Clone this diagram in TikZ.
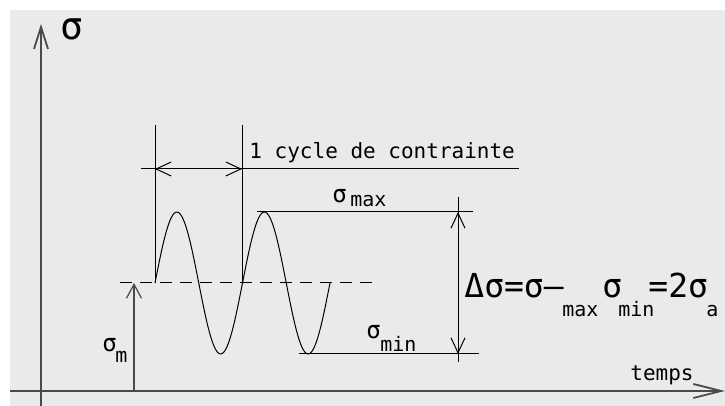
\documentclass[tikz,border=0pt]{standalone}
\usepackage{fontspec}
\setmainfont{DejaVu Sans Mono}
\usepackage{xcolor}
\usetikzlibrary{arrows.meta,positioning}
\definecolor{bggray}{HTML}{EAEAEA}
\definecolor{axisgray}{HTML}{4A4A4A}

\begin{document}
\begin{tikzpicture}[x=0.5pt, y=-0.5pt,
  thinline/.style={line width=0.5pt, black},
  axisline/.style={line width=0.9pt, axisgray},
  dblbarb/.style={{Straight Barb[length=7.5pt,width=7pt]}-{Straight Barb[length=7.5pt,width=7pt]}},
  txt/.style={inner sep=0pt, anchor=base west, font=\fontsize{10.5}{10.5}\selectfont},
  sig/.style={inner sep=0pt, anchor=base west, font=\fontsize{12}{12}\selectfont},
  bigrow/.style={inner sep=0pt, anchor=base west, font=\fontsize{16.5}{16.5}\selectfont},
  subtxt/.style={inner sep=0pt, anchor=base west, font=\fontsize{10}{10}\selectfont}]
\useasboundingbox (0,0) rectangle (725,406);
\fill[bggray] (10,10) rectangle (725,406);

% axes
\coordinate (ybot) at (41,406);
\coordinate (ytop) at (41,24);
\coordinate (xleft) at (10,391);
\coordinate (xright) at (725,391);
\draw[axisline, -{Straight Barb[length=11pt,width=7pt]}] (ybot) -- (ytop);
\draw[axisline, -{Straight Barb[length=14pt,width=7pt]}] (xleft) -- (xright);
\node (sigaxis) [inner sep=0pt, anchor=base west, font=\fontsize{19}{19}\selectfont] at (60,40) {σ};
\node (temps) [txt] at (630,381) {temps};

% mean stress
\coordinate (meanL) at (120,283);
\coordinate (meanR) at (380,283);
\coordinate (mbot) at (134,391);
\coordinate (mtop) at (134,283);
\draw[thinline, dash pattern=on 6pt off 4pt] (meanL) -- (meanR);
\draw[axisline, line width=0.6pt, -{Straight Barb[length=7pt,width=7.5pt]}] (mbot) -- (mtop);
\node (sigm) [sig] at (102,352) {σ};
\node (sigmsub) [subtxt] at (115,363) {m};

% signal
\draw[thinline] plot[domain=155:330, samples=120] (\x, {283-71*sin((\x-155)/87.5*360)});

% one cycle
\coordinate (e1top) at (155,125);
\coordinate (e1bot) at (155,283);
\coordinate (e2top) at (242,125);
\coordinate (e2bot) at (242,283);
\coordinate (dimL) at (141,169);
\coordinate (dimR) at (519,169);
\coordinate (c1) at (155,169);
\coordinate (c2) at (242,169);
\draw[thinline] (e1top) -- (e1bot);
\draw[thinline] (e2top) -- (e2bot);
\draw[thinline] (dimL) -- (dimR);
\draw[thinline, dblbarb] (c1) -- (c2);
\node (cycle) [txt] at (249,159) {1 cycle de contrainte};

% max and min
\coordinate (maxL) at (257,212);
\coordinate (maxR) at (473,212);
\coordinate (minL) at (299,354);
\coordinate (minR) at (479,354);
\draw[thinline] (maxL) -- (maxR);
\draw[thinline] (minL) -- (minR);
\node (sigmax) [sig] at (332,203) {σ};
\node (sigmaxsub) [subtxt] at (350,207) {max};
\node (sigmin) [sig] at (366,339) {σ};
\node (sigminsub) [subtxt] at (380,352) {min};

% range
\coordinate (dtop) at (458,197);
\coordinate (dbot) at (458,362);
\coordinate (dmax) at (458,212);
\coordinate (dmin) at (458,354);
\draw[thinline] (dtop) -- (dbot);
\draw[thinline, dblbarb] (dmax) -- (dmin);
\node (range) [bigrow] at (464,298) {Δσ=σ—};
\node (rangesig) [bigrow] at (602,298) {σ};
\node (rangeeq) [bigrow] at (648,298) {=2σ};
\node (rangemax) [subtxt] at (562,317) {max};
\node (rangemin) [subtxt] at (618,317) {min};
\node (rangea) [subtxt] at (706,317) {a};
\end{tikzpicture}
\end{document}
